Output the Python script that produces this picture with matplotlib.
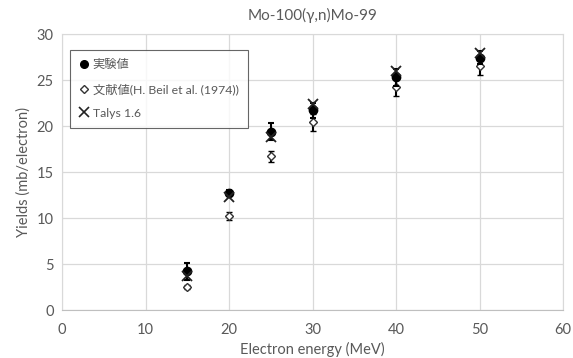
import matplotlib
matplotlib.use("Agg")
import matplotlib.pyplot as plt
from matplotlib.lines import Line2D

plt.rcParams['font.family'] = ['Lato', 'Noto Sans CJK JP', 'DejaVu Sans']

energy = [15, 20, 25, 30, 40, 50]
exp_vals = [4.2, 12.7, 19.4, 21.7, 25.3, 27.4]
exp_err = [0.9, 0.3, 0.9, 0.8, 0.9, 0.7]
lit_vals = [2.5, 10.2, 16.7, 20.4, 24.2, 26.5]
lit_err = [0.2, 0.4, 0.6, 0.9, 0.9, 1.0]
talys_vals = [3.7, 12.3, 18.8, 22.4, 26.0, 27.9]

labels = ['実験値', '文献値(H. Beil et al. (1974))', 'Talys 1.6']
title = 'Mo-100(γ,n)Mo-99'
xlabel = 'Electron energy (MeV)'
ylabel = 'Yields (mb/electron)'
xticks = [0, 10, 20, 30, 40, 50, 60]
yticks = [0, 5, 10, 15, 20, 25, 30]

gray = '#595959'
grid = '#d9d9d9'

fig = plt.figure(figsize=(5.73, 3.58), dpi=100)
ax = fig.add_axes([62/573, 1-310/358, (563-62)/573, (310-34)/358])

ax.errorbar(energy, exp_vals, yerr=exp_err, fmt='o', color='black', ms=6,
            capsize=2.5, elinewidth=1.5, capthick=1.5, zorder=4)
ax.errorbar(energy, lit_vals, yerr=lit_err, fmt='D', color='black', mfc='white',
            mec='#333333', ms=4.5, mew=1.0, capsize=2.5, elinewidth=1.5, capthick=1.5,
            zorder=3)
ax.plot(energy, talys_vals, 'x', color='#222222', ms=7, mew=1.3, zorder=5)

handles = [
    Line2D([], [], ls='none', marker='o', color='black', ms=5.5),
    Line2D([], [], ls='none', marker='D', color='black', mfc='white', mec='#333333', ms=4.2, mew=1.0),
    Line2D([], [], ls='none', marker='x', color='#222222', ms=6.5, mew=1.2),
]

ax.set_xlim(0, 60)
ax.set_ylim(0, 30)
ax.set_xticks(xticks)
ax.set_yticks(yticks)
ax.grid(True, color=grid, linewidth=0.9)
ax.set_axisbelow(True)
for s in ax.spines.values():
    s.set_color(grid)
ax.spines['bottom'].set_color('#bfbfbf')
ax.tick_params(length=0, labelsize=10.5, colors=gray, pad=6)
ax.tick_params(axis='x', pad=9)

ax.set_title(title, fontsize=11, color=gray, pad=10)
ax.set_xlabel(xlabel, fontsize=10.5, color=gray, labelpad=4)
ax.set_ylabel(ylabel, fontsize=10.5, color=gray, labelpad=4)

leg = ax.legend(handles, labels, loc='upper left', bbox_to_anchor=((70-62)/501, 1-(50-34)/276),
                fontsize=8.8, frameon=True, fancybox=False, labelspacing=1.05,
                handlelength=0.8, handletextpad=0.3, borderpad=0.75, borderaxespad=0)
leg.get_frame().set_edgecolor('#404040')
leg.get_frame().set_linewidth(0.8)
for t in leg.get_texts():
    t.set_color(gray)

fig.savefig('out.png', dpi=100)
